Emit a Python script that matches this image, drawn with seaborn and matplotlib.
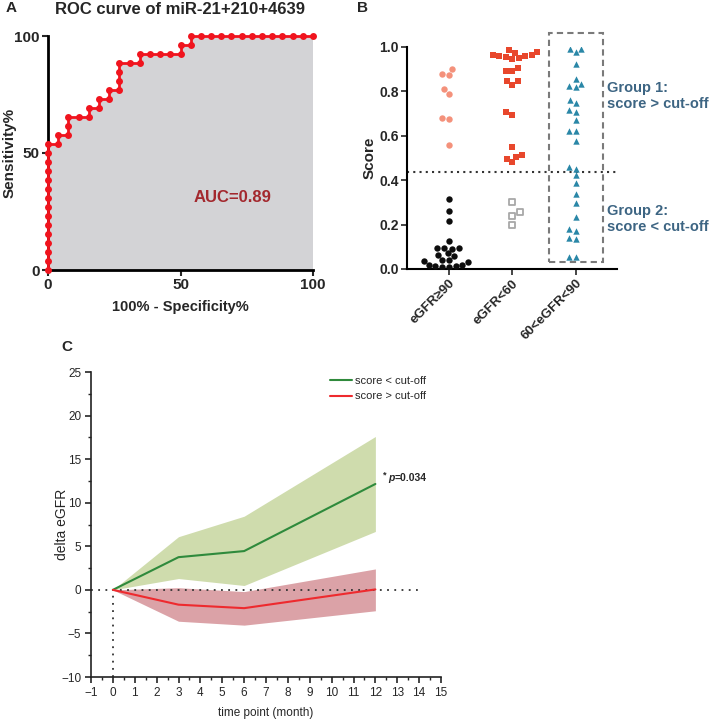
import numpy as np
import pandas as pd
import matplotlib
matplotlib.use('Agg')
import matplotlib.pyplot as plt
import seaborn as sns
from matplotlib.patches import Rectangle
from matplotlib.ticker import MultipleLocator

sns.set_style('ticks')
plt.rcParams['font.family'] = ['Liberation Sans', 'DejaVu Sans']

# ---- Panel A: ROC curve (counts of 26 controls / 26 cases) ----
n_neg = 26
n_pos = 26
roc_fp = [0, 0, 0, 0, 0, 0, 0, 0, 0, 0, 0, 0, 0, 0, 0,
          1, 1, 2, 2, 2, 3, 4, 4, 5, 5, 6, 6, 7, 7, 7, 7, 8, 9, 9, 10, 11, 12, 13, 13, 14, 14,
          15, 16, 17, 18, 19, 20, 21, 22, 23, 24, 25, 26]
roc_tp = [0, 1, 2, 3, 4, 5, 6, 7, 8, 9, 10, 11, 12, 13, 14,
          14, 15, 15, 16, 17, 17, 17, 18, 18, 19, 19, 20, 20, 21, 22, 23, 23, 23, 24, 24, 24, 24, 24, 25, 25, 26,
          26, 26, 26, 26, 26, 26, 26, 26, 26, 26, 26, 26]
auc_label = 'AUC=0.89'

# ---- Panel B: scores per eGFR group ----
groups_b = ['eGFR\u226590', 'eGFR<60', '60<eGFR<90']
normal_high = [0.88, 0.875, 0.90, 0.79, 0.81, 0.68, 0.675, 0.56]
normal_low = [0.316, 0.26, 0.216, 0.124, 0.096, 0.096, 0.093, 0.091, 0.07, 0.061, 0.058,
              0.04, 0.039, 0.034, 0.03, 0.016, 0.016, 0.012, 0.012, 0.01, 0.01]
ckd_high = [0.985, 0.978, 0.972, 0.965, 0.962, 0.96, 0.958, 0.955, 0.95, 0.945, 0.905, 0.89,
            0.89, 0.845, 0.845, 0.83, 0.705, 0.695, 0.55, 0.515, 0.505, 0.495, 0.48]
ckd_low = [0.30, 0.255, 0.24, 0.20]
mid_all = [0.990, 0.976, 0.993, 0.922, 0.855, 0.823, 0.818, 0.835, 0.748, 0.760, 0.707, 0.715,
           0.670, 0.620, 0.620, 0.575, 0.459, 0.452, 0.422, 0.389, 0.34, 0.299, 0.234, 0.179,
           0.172, 0.141, 0.137, 0.054, 0.054]
cutoff = 0.435

# ---- Panel C: delta eGFR over follow-up ----
months = [0, 3, 6, 12]
low_mean = [0, 3.75, 4.45, 12.15]
low_lo = [0, 1.3, 0.5, 6.7]
low_hi = [0, 6.1, 8.45, 17.6]
high_mean = [0, -1.7, -2.1, 0.05]
high_lo = [0, -3.6, -4.05, -2.4]
high_hi = [0, 0.25, -0.2, 2.4]

fig = plt.figure(figsize=(7.09, 7.22), dpi=100)
W, H = 709, 722


def box(l, t, r, b):
    return [l / W, 1 - b / H, (r - l) / W, (b - t) / H]


# ================= A =================
axA = fig.add_axes(box(48, 36, 313, 270))
fpr = np.array(roc_fp) / n_neg * 100
tpr = np.array(roc_tp) / n_pos * 100
axA.fill_between(fpr, 0, tpr, color='#d3d3d6', lw=0)
sns.lineplot(x=fpr, y=tpr, sort=False, estimator=None, ax=axA, color='#f0141e', lw=2,
             marker='o', markersize=5, markeredgewidth=0, clip_on=False, zorder=5)
axA.set_xlim(0, 100)
axA.set_ylim(0, 100)
axA.set_xticks([0, 50, 100])
axA.set_yticks([0, 50, 100])
for s in ['top', 'right']:
    axA.spines[s].set_visible(False)
for s in ['left', 'bottom']:
    axA.spines[s].set_linewidth(2)
    axA.spines[s].set_color('black')
axA.tick_params(width=1.5, length=4, labelsize=11, pad=2)
for lab in axA.get_xticklabels() + axA.get_yticklabels():
    lab.set_fontweight('bold')
axA.set_xlabel('100% - Specificity%', fontsize=10.5, fontweight='bold')
axA.set_ylabel('Sensitivity%', fontsize=11, fontweight='bold')
axA.xaxis.set_label_coords(0.5, -0.128)
axA.yaxis.set_label_coords(-0.12, 0.5)
axA.text(69.5, 30.8, auc_label, color='#a3282e', fontsize=12, fontweight='bold',
         ha='center', va='center')
fig.text(180 / W, 1 - 9 / H, 'ROC curve of miR-21+210+4639', ha='center', va='center',
         fontsize=12, fontweight='bold')

# ================= B =================
axB = fig.add_axes(box(407, 47, 617, 269))
df_nh = pd.DataFrame({'group': groups_b[0], 'score': normal_high})
df_nl = pd.DataFrame({'group': groups_b[0], 'score': normal_low})
df_ch = pd.DataFrame({'group': groups_b[1], 'score': ckd_high})
df_cl = pd.DataFrame({'group': groups_b[1], 'score': ckd_low})
df_m = pd.DataFrame({'group': groups_b[2], 'score': mid_all})

swarm_kw = dict(x='group', y='score', order=groups_b, ax=axB, size=4.6, zorder=3)
sns.swarmplot(data=df_nh, color='#f4917b', marker='o', linewidth=0, **swarm_kw)
sns.swarmplot(data=df_nl, color='#0d0d0d', marker='o', linewidth=0, **swarm_kw)
sns.swarmplot(data=df_ch, color='#e8472c', marker='s', linewidth=0, **swarm_kw)
sns.swarmplot(data=df_cl, color='white', marker='s', linewidth=1.3, edgecolor='#a8a8a8', **swarm_kw)
sns.swarmplot(data=df_m, color='#2a87a7', marker='^', linewidth=0, **swarm_kw)
axB.set_xlim(-0.66, 2.65)
axB.set_ylim(0, 1.0)
axB.set_yticks(np.arange(0, 1.01, 0.2))
axB.set_yticklabels(['0.0', '0.2', '0.4', '0.6', '0.8', '1.0'])
axB.axhline(cutoff, color='#333333', ls=(0, (1, 2)), lw=1.5, zorder=1)
axB.add_patch(Rectangle((1.575, 0.03), 0.85, 1.033, fill=False, ls=(0, (3, 2)), lw=1.5,
                        edgecolor='#7a7a7a', clip_on=False))
for s in ['top', 'right']:
    axB.spines[s].set_visible(False)
for s in ['left', 'bottom']:
    axB.spines[s].set_linewidth(1.5)
    axB.spines[s].set_color('black')
axB.tick_params(width=1.2, length=4, labelsize=10, pad=2)
axB.tick_params(axis='x', labelsize=9.5)
for lab in axB.get_yticklabels():
    lab.set_fontweight('bold')
for lab in axB.get_xticklabels():
    lab.set_fontweight('bold')
    lab.set_rotation(45)
    lab.set_ha('right')
    lab.set_rotation_mode('anchor')
axB.set_xlabel('')
axB.set_ylabel('Score', fontsize=11, fontweight='bold')
axB.yaxis.set_label_coords(-0.143, 0.5)
axB.text(2.5, 0.78, 'Group 1:\nscore > cut-off', color='#3d6583', fontsize=10.5,
         fontweight='bold', ha='left', va='center', linespacing=1.15, clip_on=False)
axB.text(2.5, 0.226, 'Group 2:\nscore < cut-off', color='#3d6583', fontsize=10.5,
         fontweight='bold', ha='left', va='center', linespacing=1.15, clip_on=False)

# ================= C =================
axC = fig.add_axes(box(91, 372, 441, 677))
df_c = pd.DataFrame({
    'month': months * 2,
    'delta': low_mean + high_mean,
    'grp': ['score < cut-off'] * len(months) + ['score > cut-off'] * len(months),
})
axC.fill_between(months, low_lo, low_hi, color='#cfdcad', lw=0)
axC.fill_between(months, high_lo, high_hi, color='#dba2a7', lw=0)
axC.axhline(0, xmin=0, xmax=0.935, color='#333333', ls=(0, (1, 3)), lw=1.3)
axC.plot([0, 0], [-10, 0], color='#333333', ls=(0, (1, 3)), lw=1.3)
sns.lineplot(data=df_c, x='month', y='delta', hue='grp', ax=axC,
             palette={'score < cut-off': '#2f8a3c', 'score > cut-off': '#ee2a2e'}, lw=1.5)
axC.set_xlim(-1, 15)
axC.set_ylim(-10, 25)
axC.xaxis.set_major_locator(MultipleLocator(1))
axC.xaxis.set_minor_locator(MultipleLocator(0.5))
axC.yaxis.set_major_locator(MultipleLocator(5))
axC.yaxis.set_minor_locator(MultipleLocator(2.5))
for s in ['top', 'right']:
    axC.spines[s].set_visible(False)
for s in ['left', 'bottom']:
    axC.spines[s].set_linewidth(1.2)
    axC.spines[s].set_color('#222222')
axC.tick_params(which='major', width=1.2, length=4, labelsize=8.5, pad=3)
axC.tick_params(which='minor', width=1.0, length=2.5)
axC.set_xticklabels([('\u2212' + str(-int(v))) if v < 0 else str(int(v)) for v in axC.get_xticks()])
axC.set_yticklabels([('\u2212' + str(-int(v))) if v < 0 else str(int(v)) for v in axC.get_yticks()])
axC.set_xlabel('time point (month)', fontsize=8.5)
axC.set_ylabel('delta eGFR', fontsize=10)
axC.xaxis.set_label_coords(0.5, -0.098)
axC.yaxis.set_label_coords(-0.063, 0.5)
leg = axC.legend(loc='upper left', bbox_to_anchor=(0.655, 1.02), frameon=False,
                 handlelength=2.0, handletextpad=0.2, labelspacing=0.5,
                 prop={'size': 8})
axC.text(12.35, 13.2, '*', fontsize=6.5, fontweight='bold', ha='left', va='center')
axC.text(12.6, 12.84, 'p', fontsize=7.5, fontweight='bold', fontstyle='italic',
         ha='left', va='center')
axC.text(12.88, 12.84, '=0.034', fontsize=7.5, fontweight='bold', ha='left', va='center')

# panel letters
fig.text(11 / W, 1 - 8 / H, 'A', fontsize=11, fontweight='bold', ha='center', va='center')
fig.text(362 / W, 1 - 8 / H, 'B', fontsize=11, fontweight='bold', ha='center', va='center')
fig.text(67 / W, 1 - 347 / H, 'C', fontsize=11, fontweight='bold', ha='center', va='center')

fig.savefig('out.png', dpi=100)
